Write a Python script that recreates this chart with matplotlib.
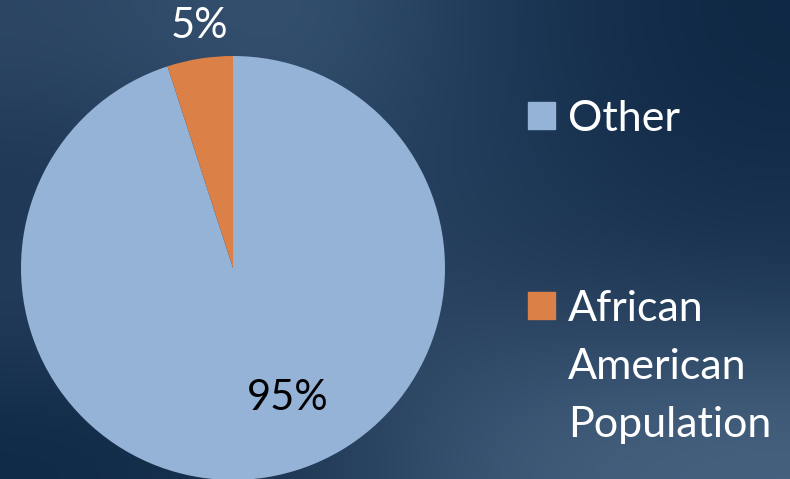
import numpy as np
import matplotlib
matplotlib.use("Agg")
import matplotlib.pyplot as plt
from matplotlib.colors import to_rgb
from matplotlib.patches import Rectangle

# Data
categories = ["Other", "African\nAmerican\nPopulation"]
shares = [95, 5]
slice_colors = ["#95B3D7", "#DB8046"]
label_colors = ["black", "white"]

plt.rcParams["font.family"] = ["Lato", "DejaVu Sans"]

W, H = 790, 479
fig = plt.figure(figsize=(W / 100, H / 100), dpi=100)

# Navy backdrop with soft light/dark patches
bg = fig.add_axes([0, 0, 1, 1])
grid_hex = [
    ["#2c4664", "#3a5775", "#1d3757", "#0e2844"],
    ["#1a3452", "#2a4563", "#203a59", "#132d4b"],
    ["#263f5d", "#2c4664", "#263f5d", "#203a58"],
    ["#0f2a46", "#1c3552", "#3e5a78", "#46627f"],
]
grid = np.array([[to_rgb(c) for c in row] for row in grid_hex])
bg.imshow(grid, extent=[0, 1, 0, 1], aspect="auto", interpolation="bicubic",
          origin="upper")
bg.set_axis_off()

# Pie: centre (233, 268) px, radius 212 px
cx, cy, r = 233, 268, 212
ax = fig.add_axes([(cx - r) / W, (H - cy - r) / H, 2 * r / W, 2 * r / H])
ax.pie(shares, colors=slice_colors, startangle=90, counterclock=False,
       radius=1, wedgeprops=dict(linewidth=0))
ax.set_xlim(-1, 1)
ax.set_ylim(-1, 1)
ax.set_axis_off()

# Percentage labels
label_pos = [(0.259, -0.613), (-0.160, 1.142)]
for v, (lx, ly), col in zip(shares, label_pos, label_colors):
    ax.text(lx, ly, f"{v}%", ha="center", va="center", fontsize=30,
            color=col, clip_on=False)

# Legend: square key plus label lines, 58 px line pitch
legend_rows = [115, 305]
line_pitch = 58
for name, col, yc in zip(categories, slice_colors, legend_rows):
    fig.patches.append(Rectangle((528 / W, (H - yc - 13.5) / H), 27 / W, 27 / H,
                                 transform=fig.transFigure, color=col))
    for i, line in enumerate(name.split("\n")):
        base = yc + 16 + i * line_pitch
        fig.text(568 / W, (H - base) / H, line, ha="left", va="baseline",
                 fontsize=31, color="white")

fig.savefig("out.png", dpi=100)
